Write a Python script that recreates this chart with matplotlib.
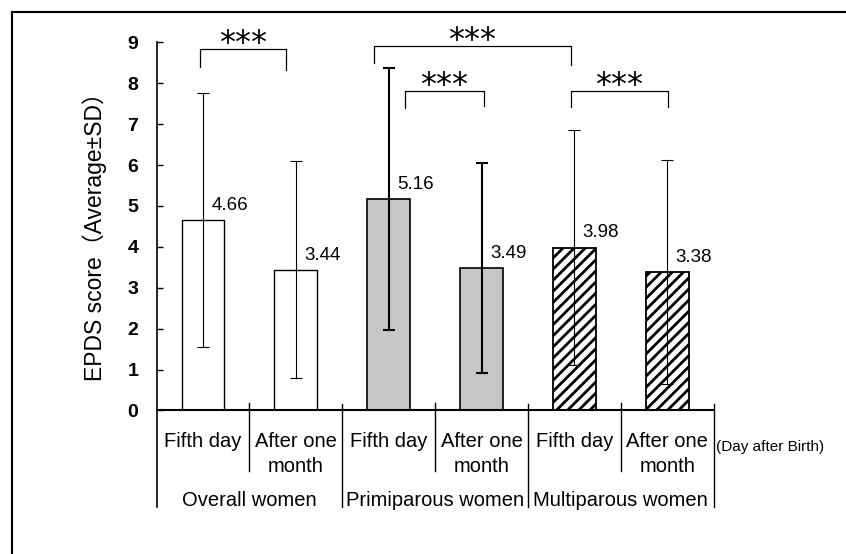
import matplotlib
matplotlib.use("Agg")
import matplotlib.pyplot as plt
from matplotlib.lines import Line2D

plt.rcParams['font.family'] = ['Liberation Sans', 'Noto Sans CJK JP', 'DejaVu Sans']
plt.rcParams['hatch.linewidth'] = 2.0

# data
means = [4.66, 3.44, 5.16, 3.49, 3.98, 3.38]
sds = [3.10, 2.65, 3.20, 2.57, 2.87, 2.74]
day_labels = ["Fifth day", "After one", "Fifth day", "After one", "Fifth day", "After one"]
day_labels2 = ["", "month", "", "month", "", "month"]
groups = ["Overall women", "Primiparous women", "Multiparous women"]
yticks = list(range(10))

# significance brackets: (x left, x right, top, left leg bottom, right leg bottom)
br_left = [0.465, 2.34, 2.675, 4.46]
br_right = [1.394, 4.46, 3.527, 5.51]
br_top = [8.83, 8.91, 7.81, 7.81]
br_lbot = [8.40, 8.50, 7.40, 7.42]
br_rbot = [8.32, 8.45, 7.45, 7.42]

fig = plt.figure(figsize=(8.46, 5.54), dpi=100)
ax = fig.add_axes([156.5 / 846, 1 - 410.4 / 554, 557.2 / 846, 368.1 / 554])

x = [i + 0.5 for i in range(len(means))]
faces = ['white', 'white', '#c6c6c6', '#c6c6c6', 'white', 'white']
hatches = [None, None, None, None, '///', '///']
edge_w = [1.0, 1.0, 1.2, 1.2, 1.3, 1.3]
err_w = [0.8, 0.8, 1.5, 1.5, 0.8, 0.8]

for i in range(len(means)):
    ax.bar(x[i], means[i], width=0.46, color=faces[i], edgecolor='black',
           linewidth=edge_w[i], hatch=hatches[i], zorder=2)
    ax.errorbar(x[i], means[i], yerr=sds[i], fmt='none', ecolor='black',
                elinewidth=err_w[i], capsize=4.3, capthick=err_w[i], zorder=3)
    ax.text(x[i] + 0.09, means[i] + 0.15, f"{means[i]:.2f}", ha='left',
            va='bottom', fontsize=13.5)

for i in range(len(br_left)):
    ax.plot([br_left[i], br_left[i], br_right[i], br_right[i]],
            [br_lbot[i], br_top[i], br_top[i], br_rbot[i]],
            color='black', lw=0.9, clip_on=False)
    ax.text((br_left[i] + br_right[i]) / 2, br_top[i] + 0.13, "***",
            ha='center', va='center', fontsize=23, family='DejaVu Sans',
            clip_on=False)

ax.set_xlim(0, 6)
ax.set_ylim(0, 9)
ax.set_yticks(yticks)
ax.set_yticklabels([str(t) for t in yticks], fontweight='bold', fontsize=14)
ax.tick_params(axis='y', direction='in', length=4.3, width=1.0, pad=13)
ax.set_xticks([])
for s in ['top', 'right']:
    ax.spines[s].set_visible(False)
ax.spines['left'].set_linewidth(1.2)
ax.spines['bottom'].set_linewidth(1.5)

# category table below the axis
for i in range(len(means)):
    ax.text(x[i], -0.75, day_labels[i], ha='center', va='center', fontsize=14.5,
            clip_on=False)
    ax.text(x[i], -1.36, day_labels2[i], ha='center', va='center', fontsize=14.5,
            clip_on=False)
for g in range(len(groups)):
    ax.text(2 * g + 1, -2.2, groups[g], ha='center', va='center', fontsize=14.5,
            clip_on=False)
for b in [1, 3, 5]:
    ax.plot([b, b], [0.17, -1.48], color='black', lw=1.0, clip_on=False)
for b in [2, 4, 6]:
    ax.plot([b, b], [0.15, -2.36], color='black', lw=1.0, clip_on=False)
ax.plot([0, 0], [0, -2.36], color='black', lw=1.2, clip_on=False)
ax.text(6.03, -0.9, "(Day after Birth)", ha='left', va='center', fontsize=11,
        clip_on=False)

fig.text(95 / 846, 1 - 231 / 554, "EPDS score（Average±SD）", rotation=90,
         ha='center', va='center', fontsize=16.5)

# frame lines at top and left of the picture
fig.add_artist(Line2D([12 / 846, 1], [1 - 12 / 554, 1 - 12 / 554],
                      color='black', lw=1.5))
fig.add_artist(Line2D([12 / 846, 12 / 846], [1 - 12 / 554, 0],
                      color='black', lw=1.5))

fig.savefig("out.png", dpi=100)
